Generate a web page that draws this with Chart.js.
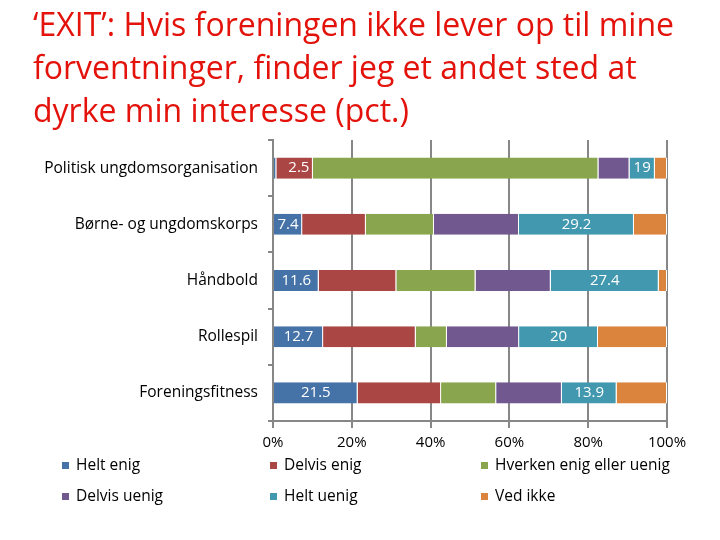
<!DOCTYPE html>
<html>
<head>
<meta charset="utf-8">
<script src="https://cdn.jsdelivr.net/npm/chart.js@4.4.1/dist/chart.umd.min.js"></script>
<style>
  body { margin: 0; background: #fff; }
  #wrap { position: relative; width: 720px; height: 540px; }
  #title {
    position: absolute; left: 33px; top: 2px; z-index: 2;
    font-family: "Open Sans", sans-serif;
    font-size: 32px; line-height: 43px; color: #e3120b;
  }
  canvas { position: absolute; left: 0; top: 0; }
</style>
</head>
<body>
<div id="wrap">
  <div id="title">‘EXIT’: Hvis foreningen ikke lever op til mine<br>forventninger, finder jeg et andet sted at<br>dyrke min interesse (pct.)</div>
  <canvas id="myChart" width="720" height="540"></canvas>
</div>
<script>
const categories = ['Politisk ungdomsorganisation', 'Børne- og ungdomskorps', 'Håndbold', 'Rollespil', 'Foreningsfitness'];
const seriesNames = ['Helt enig', 'Delvis enig', 'Hverken enig eller uenig', 'Delvis uenig', 'Helt uenig', 'Ved ikke'];

// raw answers per organisation (chart shows them as 100% stacked)
const heltEnig    = [2.5, 7.4, 11.6, 12.7, 21.5];
const delvisEnig  = [27.4, 16.2, 19.7, 23.5, 21.2];
const hverken     = [214, 17.3, 20.1, 7.9, 14.0];
const delvisUenig = [23.3, 21.6, 19.1, 18.3, 16.7];
const heltUenig   = [19, 29.2, 27.4, 20, 13.9];
const vedIkke     = [9.1, 8.4, 2.1, 17.5, 12.8];

const tickLabels = ['0%', '20%', '40%', '60%', '80%', '100%'];
const labelledSeries = [0, 4];

const colors = ['#4572a7', '#aa4643', '#89a54e', '#71588f', '#4198af', '#db843d'];
const FONT = '"Open Sans", sans-serif';

const series = [heltEnig, delvisEnig, hverken, delvisUenig, heltUenig, vedIkke];
const rowTotals = categories.map((c, i) => series.reduce((s, arr) => s + arr[i], 0));

const valueLabels = {
    id: 'valueLabels',
    afterDatasetsDraw(chart) {
        const ctx = chart.ctx;
        ctx.save();
        ctx.font = '15px ' + FONT;
        ctx.fillStyle = '#fff';
        ctx.textBaseline = 'middle';
        ctx.textAlign = 'center';
        labelledSeries.forEach(ds => {
            chart.getDatasetMeta(ds).data.forEach((bar, i) => {
                const txt = String(series[ds][i]);
                const w = ctx.measureText(txt).width;
                let x = (bar.base + bar.x) / 2;
                if (w > bar.x - bar.base - 4) x = bar.x + 12 + w / 2;
                ctx.fillText(txt, x, bar.y);
            });
        });
        ctx.restore();
    }
};

const gridLegend = {
    id: 'gridLegend',
    afterDraw(chart) {
        const ctx = chart.ctx;
        const cols = [62, 270, 481];
        const rows = [466, 497];
        ctx.save();
        ctx.font = '15.5px ' + FONT;
        ctx.textBaseline = 'middle';
        ctx.textAlign = 'left';
        chart.data.datasets.forEach((ds, k) => {
            const x = cols[k % 3], y = rows[Math.floor(k / 3)];
            ctx.fillStyle = ds.backgroundColor;
            ctx.fillRect(x, y - 4, 7, 7);
            ctx.fillStyle = '#000';
            ctx.fillText(ds.label, x + 14, y);
        });
        ctx.restore();
    }
};

new Chart(document.getElementById('myChart'), {
    type: 'bar',
    data: {
        labels: categories,
        datasets: series.map((arr, k) => ({
            label: seriesNames[k],
            data: arr.map((v, i) => v / rowTotals[i] * 100),
            backgroundColor: colors[k],
            borderColor: '#fff',
            borderWidth: { left: 0, right: 1, top: 0, bottom: 0 },
            borderSkipped: false,
            barPercentage: 0.75,
            categoryPercentage: 0.5
        }))
    },
    plugins: [valueLabels, gridLegend],
    options: {
        indexAxis: 'y',
        responsive: false,
        animation: false,
        layout: { padding: { top: 140, right: 53, left: 0, bottom: 0 } },
        plugins: {
            legend: { display: false },
            tooltip: { enabled: false }
        },
        scales: {
            x: {
                stacked: true,
                min: 0,
                max: 100,
                afterFit: s => { s.height = 119; },
                ticks: {
                    stepSize: 20,
                    padding: 6,
                    color: '#000',
                    font: { family: FONT, size: 15 },
                    callback: (v, i) => tickLabels[i]
                },
                grid: { color: '#878787', lineWidth: 2, tickLength: 7 },
                border: { color: '#878787', width: 2 }
            },
            y: {
                stacked: true,
                afterFit: s => { s.width = 273; },
                ticks: {
                    padding: 10,
                    color: '#000',
                    font: { family: FONT, size: 15.5 }
                },
                grid: { offset: true, drawOnChartArea: false, tickLength: 5, color: '#878787', lineWidth: 2 },
                border: { color: '#878787', width: 2 }
            }
        }
    }
});
</script>
</body>
</html>
